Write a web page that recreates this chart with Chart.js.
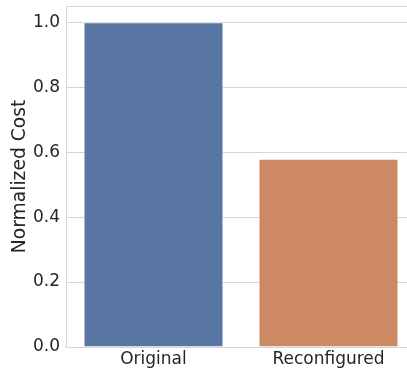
<!DOCTYPE html>
<html><head><meta charset="utf-8">
<script src="https://cdn.jsdelivr.net/npm/chart.js@4/dist/chart.umd.min.js"></script>
<style>html,body{margin:0;padding:0;background:#fff;overflow:hidden}#wrap{width:407px;height:373px;overflow:hidden}</style>
</head><body><div id="wrap"><canvas id="c" width="417" height="373"></canvas></div>
<script>
const categories = ["Original", "Reconfigured"];
const costValues = [1.0, 0.58];
const yTicks = [0.0, 0.2, 0.4, 0.6, 0.8, 1.0];
const barColors = ["#5975a4", "#cc8963"];

const frame = {
  id: 'frame',
  afterDraw(chart) {
    const a = chart.chartArea, ctx = chart.ctx;
    ctx.save();
    ctx.strokeStyle = '#d6d6d6';
    ctx.lineWidth = 1;
    ctx.strokeRect(Math.round(a.left) + 0.5, Math.round(a.top) + 0.5,
                   Math.round(a.right - a.left) - 1, Math.round(a.bottom - a.top));
    ctx.restore();
  }
};

new Chart(document.getElementById('c'), {
  type: 'bar',
  data: {
    labels: categories,
    datasets: [{
      data: costValues,
      backgroundColor: barColors,
      borderColor: 'rgba(255,255,255,0.5)',
      borderWidth: 1,
      barPercentage: 0.8,
      categoryPercentage: 1.0
    }]
  },
  options: {
    responsive: false,
    animation: false,
    devicePixelRatio: 1,
    layout: { padding: { left: 0, top: 6, right: 1, bottom: 0 } },
    plugins: { legend: { display: false }, tooltip: { enabled: false } },
    scales: {
      x: {
        grid: { display: false, drawTicks: false },
        border: { display: false },
        ticks: { color: '#262626', font: { family: 'DejaVu Sans', size: 17 }, padding: 2 },
        afterFit(s) { s.height = 26; s.paddingLeft = 0; s.paddingRight = 0; }
      },
      y: {
        min: 0, max: 1.05,
        afterBuildTicks(s) { s.ticks = yTicks.map(v => ({ value: v })); },
        grid: { color: '#d6d6d6', drawTicks: false, lineWidth: 1 },
        border: { display: false },
        ticks: { color: '#262626', font: { family: 'DejaVu Sans', size: 17 }, padding: 6,
                 callback: v => Number(v).toFixed(1) },
        title: { display: true, text: 'Normalized Cost', color: '#262626',
                 font: { family: 'DejaVu Sans', size: 18.7 }, padding: { top: 9, bottom: 0 } },
        afterFit(s) { s.width = 66; s.paddingTop = 0; s.paddingBottom = 0; }
      }
    }
  },
  plugins: [frame]
});
</script></body></html>
